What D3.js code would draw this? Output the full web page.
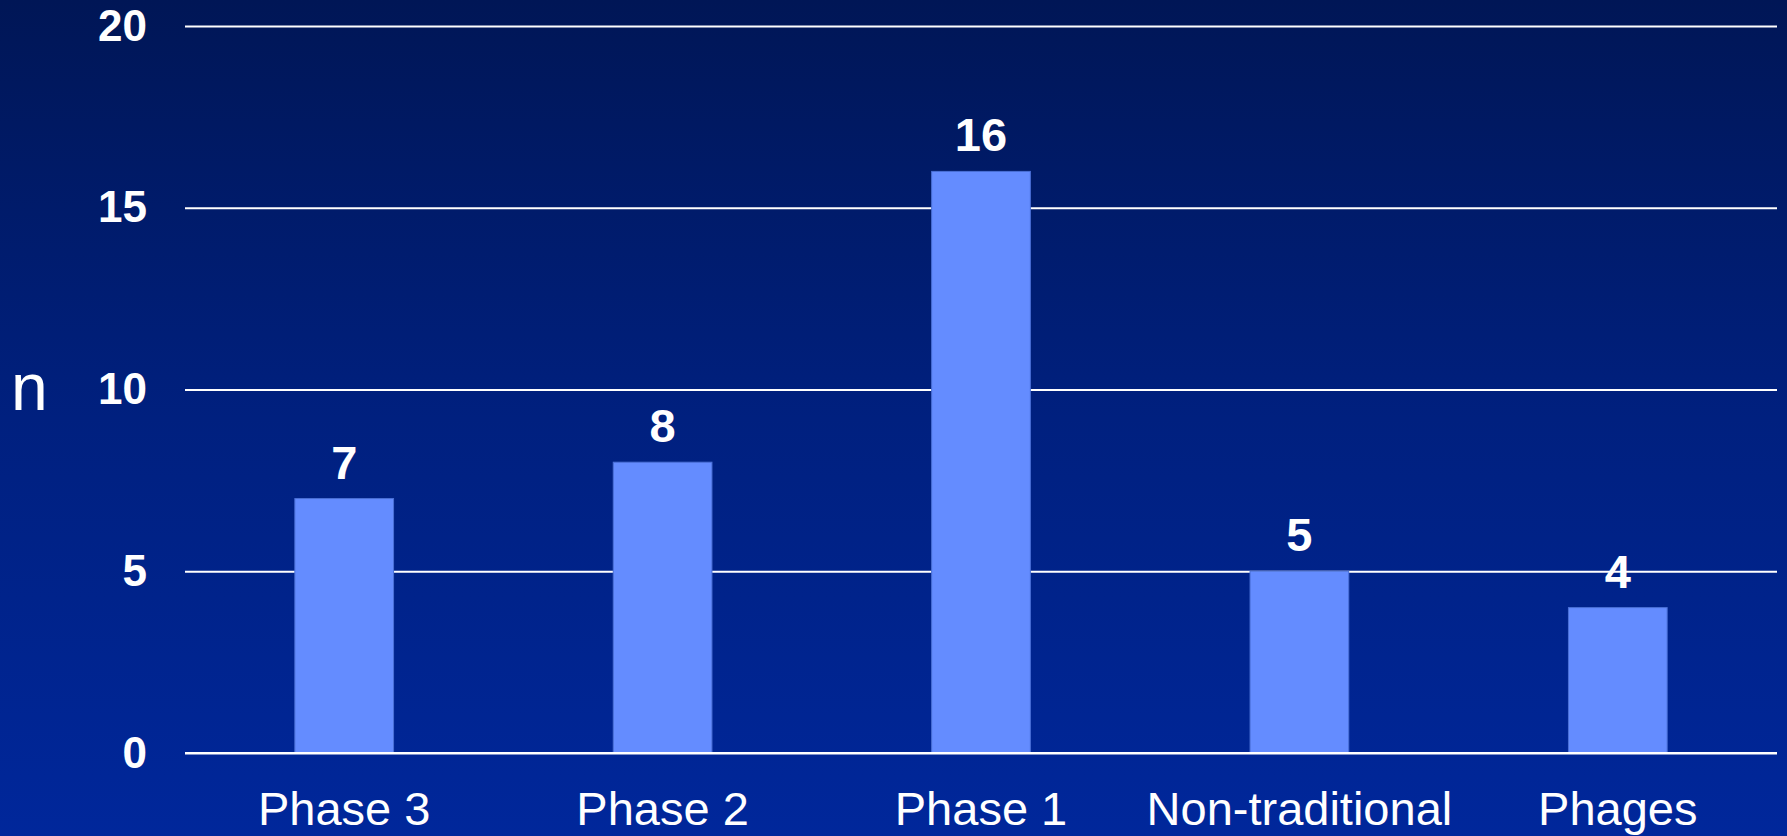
<!DOCTYPE html>
<html>
<head>
<meta charset="utf-8">
<script src="https://cdn.jsdelivr.net/npm/d3@7"></script>
<style>
  html, body { margin: 0; padding: 0; overflow: hidden; }
  svg { display: block; }
</style>
</head>
<body>
<svg id="chart" width="1787" height="836"></svg>
<script>
// Pipeline counts by development stage
const categories = ["Phase 3", "Phase 2", "Phase 1", "Non-traditional", "Phages"];
const counts = [7, 8, 16, 5, 4];
const yTicks = [0, 5, 10, 15, 20];
const yLabel = "n";

const W = 1787, H = 836;
const margin = { left: 185, right: 10, top: 26, bottom: 83 };

const svg = d3.select("#chart");

// Background: dark navy at the top fading to royal blue at the bottom
const defs = svg.append("defs");
const grad = defs.append("linearGradient")
  .attr("id", "bg").attr("x1", 0).attr("y1", 0).attr("x2", 0).attr("y2", 1);
grad.append("stop").attr("offset", "0%").attr("stop-color", "#001656");
grad.append("stop").attr("offset", "50%").attr("stop-color", "#00207f");
grad.append("stop").attr("offset", "100%").attr("stop-color", "#00279b");
svg.append("rect").attr("width", W).attr("height", H).attr("fill", "url(#bg)");

const x = d3.scaleBand()
  .domain(categories)
  .range([margin.left, W - margin.right])
  .paddingInner(0.69)
  .paddingOuter(0.345);

const y = d3.scaleLinear()
  .domain([0, 20])
  .range([H - margin.bottom, margin.top]);

// Horizontal gridlines with bold tick labels
const yAxis = svg.append("g")
  .attr("transform", `translate(${margin.left},0)`)
  .call(d3.axisLeft(y).tickValues(yTicks).tickSize(-(W - margin.right - margin.left)).tickPadding(38))
  .call(g => g.select(".domain").remove());
yAxis.selectAll(".tick line")
  .attr("stroke", "#ffffff").attr("stroke-width", 2);
yAxis.selectAll(".tick text")
  .attr("fill", "#ffffff")
  .attr("font-family", "Liberation Sans, Arial, sans-serif")
  .attr("font-weight", "bold")
  .attr("font-size", 44);

// Bars
svg.append("g").selectAll("rect")
  .data(categories.map((c, i) => ({ c, v: counts[i] })))
  .join("rect")
  .attr("x", d => x(d.c))
  .attr("y", d => y(d.v))
  .attr("width", x.bandwidth())
  .attr("height", d => y(0) - y(d.v))
  .attr("fill", "#648cff")
  .attr("stroke", "#4a70d6")
  .attr("stroke-width", 1);

// Redraw the baseline over the bars
svg.append("line")
  .attr("x1", margin.left).attr("x2", W - margin.right)
  .attr("y1", y(0)).attr("y2", y(0))
  .attr("stroke", "#ffffff").attr("stroke-width", 2);

// Value labels above bars
svg.append("g").selectAll("text")
  .data(categories.map((c, i) => ({ c, v: counts[i] })))
  .join("text")
  .attr("x", d => x(d.c) + x.bandwidth() / 2)
  .attr("y", d => y(d.v) - 20)
  .attr("text-anchor", "middle")
  .attr("fill", "#ffffff")
  .attr("font-family", "Liberation Sans, Arial, sans-serif")
  .attr("font-weight", "bold")
  .attr("font-size", 47)
  .text(d => d.v);

// Category labels
svg.append("g").selectAll("text")
  .data(categories)
  .join("text")
  .attr("x", d => x(d) + x.bandwidth() / 2)
  .attr("y", 825)
  .attr("text-anchor", "middle")
  .attr("fill", "#ffffff")
  .attr("font-family", "Liberation Sans, Arial, sans-serif")
  .attr("font-size", 47)
  .text(d => d);

// Y-axis title
svg.append("text")
  .attr("x", 11)
  .attr("y", 410)
  .attr("fill", "#ffffff")
  .attr("font-family", "Liberation Sans, Arial, sans-serif")
  .attr("font-size", 66)
  .text(yLabel);
</script>
</body>
</html>
